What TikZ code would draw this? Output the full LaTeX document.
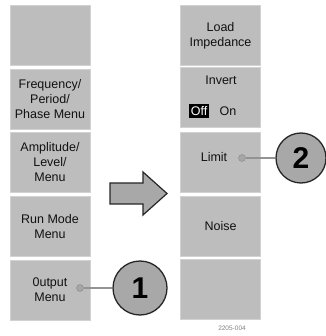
\documentclass[tikz,border=0pt]{standalone}
\usepackage{fontspec}
\setmainfont{Liberation Sans}
\usetikzlibrary{positioning}
\definecolor{menugray}{HTML}{BDBDBD}
\definecolor{menuedge}{HTML}{D2D2D2}
\definecolor{calloutgray}{HTML}{A8A8A8}
\definecolor{textgray}{HTML}{111111}

\tikzset{
  menubox/.style={fill=menugray,draw=menuedge,line width=1pt,minimum width=80pt,
    minimum height=60pt,inner sep=0pt,align=center,text=textgray,
    font=\fontsize{12.5}{15}\selectfont},
  menutext/.style={inner sep=0pt,align=center,text=textgray,font=\fontsize{12.5}{15}\selectfont},
  callout/.style={circle,fill=calloutgray,draw=black!85,line width=1.3pt,inner sep=0pt,
    font=\fontsize{30}{30}\selectfont\bfseries},
  knob/.style={circle,fill=gray!70,draw=gray!85,line width=0.6pt,minimum size=7pt,inner sep=0pt},
  lead/.style={draw=gray!85,line width=1.4pt},
}

\begin{document}
\begin{tikzpicture}[x=1pt,y=-1pt]
  \useasboundingbox (0,0) rectangle (325,336);

  % left column
  \node[menubox] (blank) at (50,36) {};
  \node[menubox] (freq) at (50,99.5) {Frequency/\\Period/\\Phase Menu};
  \node[menubox] (ampl) at (50,162.5) {Amplitude/\\Level/\\Menu};
  \node[menubox] (runmode) at (50,226.5) {Run Mode\\Menu};
  \node[menubox] (output) at (50,290) {0utput\\Menu};

  % right column
  \node[menubox] (load) at (220.5,36) {Load\\Impedance};
  \node[menubox] (invert) at (220.5,98) {};
  \node[menubox] (limit) at (220.5,162.5) {};
  \node[menubox] (noise) at (220.5,226.5) {Noise};
  \node[menubox] (blankb) at (220.5,289) {};

  \node[menutext] (inverttxt) at (221,80) {Invert};
  \node[fill=black,text=white!85,inner xsep=2pt,inner ysep=2.5pt,
    font=\fontsize{12.5}{15}\selectfont] (off) at (199,111) {Off};
  \node[menutext,right=10pt of off] (on) {On};
  \node[menutext] (limittxt) at (214,157) {Limit};

  % block arrow
  \draw[fill=calloutgray,draw=black!85,line width=1.2pt,line join=miter]
    (110,183) -- (143,183) -- (143,172) -- (167,193.5) -- (143,215) -- (143,204)
    -- (110,204) -- cycle;

  % callouts
  \node[knob] (outknob) at (80,288) {};
  \node[callout,minimum size=54pt] (one) at (140,288) {1};
  \draw[lead] (outknob) -- (one);

  \node[knob] (limknob) at (242,158) {};
  \node[callout,minimum size=50pt] (two) at (301,158) {2};
  \draw[lead] (limknob) -- (two);

  \node[text=gray,font=\fontsize{6.5}{6.5}\selectfont] (figno) at (232,328) {2205-004};
\end{tikzpicture}
\end{document}
